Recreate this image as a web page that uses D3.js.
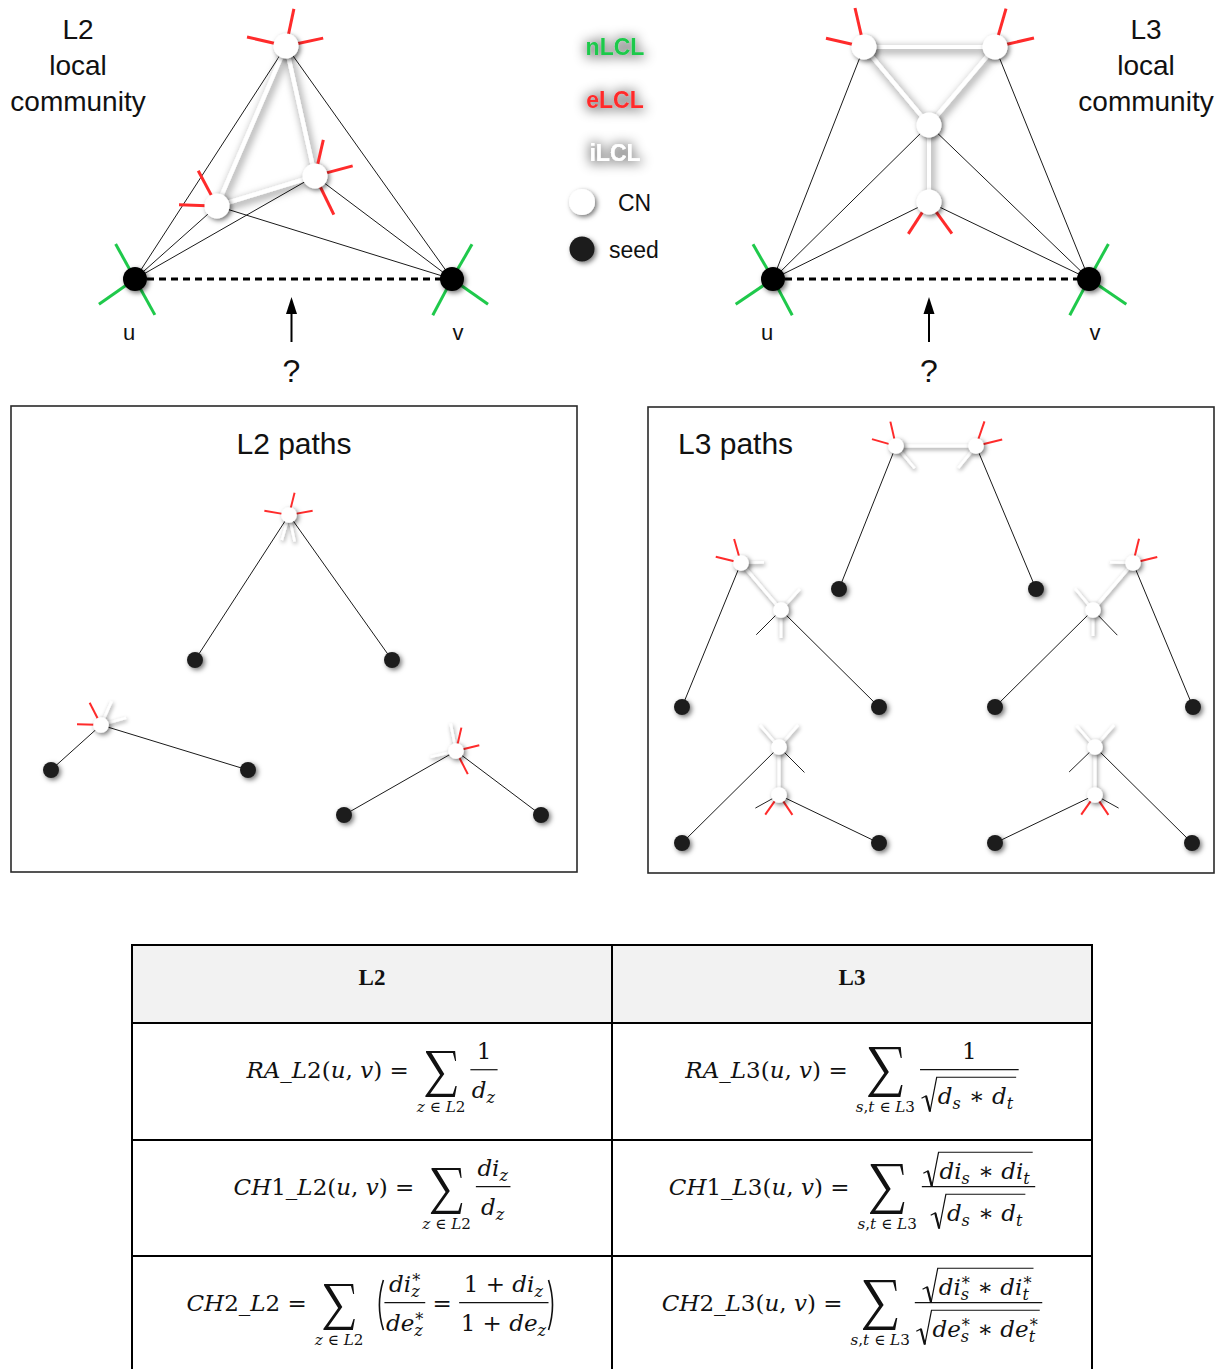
<!DOCTYPE html>
<html lang="en">
<head>
<meta charset="utf-8">
<title>L2 / L3 local community link prediction</title>
<script src="https://cdn.jsdelivr.net/npm/d3@7"></script>
<style>
  html, body { margin: 0; padding: 0; background: #fff; }
  svg { display: block; }
</style>
</head>
<body>
<script>
// ---------------- data ----------------
const communityTitleL2 = ["L2", "local", "community"];
const communityTitleL3 = ["L3", "local", "community"];
const seedNames = ["u", "v"];
const missingLinkMark = "?";
const panelTitles = ["L2 paths", "L3 paths"];
const legendLinkClasses = [["nLCL", "n"], ["eLCL", "e"], ["iLCL", "i"]];
const legendNodeRoles = [["CN", "cn"], ["seed", "seed"]];

// L2 local community: seeds u, v and three common neighbours (layout units = px in panel)
const l2CommunityNodes = [
  { id: "u", role: "seed", x: 135, y: 279 },
  { id: "v", role: "seed", x: 452, y: 279 },
  { id: "z1", role: "cn", x: 286, y: 46 },
  { id: "z2", role: "cn", x: 217, y: 206 },
  { id: "z3", role: "cn", x: 315, y: 176 },
];
const l2CommunityLinks = [
  ["u", "z1", "ext"], ["u", "z2", "ext"], ["u", "z3", "ext"],
  ["v", "z1", "ext"], ["v", "z2", "ext"], ["v", "z3", "ext"],
  ["z1", "z2", "int"], ["z1", "z3", "int"], ["z2", "z3", "int"],
];
// [node, link class, direction in degrees, length]
const l2CommunityStubs = [
  ["z1", "e", 78, 38], ["z1", "e", 167, 40], ["z1", "e", 12, 38],
  ["z2", "e", 118, 40], ["z2", "e", 178, 38],
  ["z3", "e", 77, 37], ["z3", "e", 15, 39], ["z3", "e", -64, 43],
  ["u", "n", 119, 40], ["u", "n", 215, 44], ["u", "n", -61, 41],
  ["v", "n", 60, 40], ["v", "n", 242, 41], ["v", "n", -35, 44],
];

// L3 local community
const l3CommunityNodes = [
  { id: "u", role: "seed", x: 161, y: 279 },
  { id: "v", role: "seed", x: 477, y: 279 },
  { id: "s1", role: "cn", x: 252, y: 47 },
  { id: "s2", role: "cn", x: 383, y: 47 },
  { id: "t1", role: "cn", x: 317, y: 125 },
  { id: "t2", role: "cn", x: 317, y: 202 },
];
const l3CommunityLinks = [
  ["u", "s1", "ext"], ["u", "t1", "ext"], ["u", "t2", "ext"],
  ["v", "s2", "ext"], ["v", "t1", "ext"], ["v", "t2", "ext"],
  ["s1", "s2", "int"], ["s1", "t1", "int"], ["s2", "t1", "int"], ["t1", "t2", "int"],
];
const l3CommunityStubs = [
  ["s1", "e", 103, 40], ["s1", "e", 167, 39],
  ["s2", "e", 74, 40], ["s2", "e", 13, 40],
  ["t2", "e", 237, 38], ["t2", "e", -54, 39],
  ["u", "n", 120, 40], ["u", "n", 214, 45], ["u", "n", -62, 41],
  ["v", "n", 61, 40], ["v", "n", 242, 41], ["v", "n", -34, 45],
];

// L2 paths panel
const l2PathNodes = [
  { id: "a", role: "cn", x: 278, y: 109 }, { id: "a1", role: "seed", x: 184, y: 254 }, { id: "a2", role: "seed", x: 381, y: 254 },
  { id: "b", role: "cn", x: 90, y: 319 }, { id: "b1", role: "seed", x: 40, y: 364 }, { id: "b2", role: "seed", x: 237, y: 364 },
  { id: "c", role: "cn", x: 445, y: 345 }, { id: "c1", role: "seed", x: 333, y: 409 }, { id: "c2", role: "seed", x: 530, y: 409 },
];
const l2PathLinks = [
  ["a1", "a", "ext"], ["a", "a2", "ext"],
  ["b1", "b", "ext"], ["b", "b2", "ext"],
  ["c1", "c", "ext"], ["c", "c2", "ext"],
];
const l2PathStubs = [
  ["a", "e", 76, 23], ["a", "e", 170, 25], ["a", "e", 10, 24], ["a", "i", 254, 26], ["a", "i", -78, 27],
  ["b", "e", 117, 25], ["b", "e", 178, 24], ["b", "i", 66, 26], ["b", "i", 16, 26],
  ["c", "e", 77, 24], ["c", "e", 14, 24], ["c", "e", -63, 26], ["c", "i", 101, 28], ["c", "i", 193, 26],
];

// L3 paths panel
const l3PathNodes = [
  { id: "p1", role: "cn", x: 248, y: 39 }, { id: "p2", role: "cn", x: 328, y: 39 },
  { id: "q1", role: "seed", x: 191, y: 182 }, { id: "q2", role: "seed", x: 388, y: 182 },
  { id: "la", role: "cn", x: 93, y: 156 }, { id: "lb", role: "cn", x: 133, y: 203 },
  { id: "l1", role: "seed", x: 34, y: 300 }, { id: "l2", role: "seed", x: 231, y: 300 },
  { id: "ra", role: "cn", x: 485, y: 156 }, { id: "rb", role: "cn", x: 445, y: 203 },
  { id: "r1", role: "seed", x: 347, y: 300 }, { id: "r2", role: "seed", x: 545, y: 300 },
  { id: "ma", role: "cn", x: 131, y: 340 }, { id: "mb", role: "cn", x: 131, y: 388 },
  { id: "m1", role: "seed", x: 34, y: 436 }, { id: "m2", role: "seed", x: 231, y: 436 },
  { id: "na", role: "cn", x: 447, y: 340 }, { id: "nb", role: "cn", x: 447, y: 388 },
  { id: "n1", role: "seed", x: 347, y: 436 }, { id: "n2", role: "seed", x: 544, y: 436 },
];
const l3PathLinks = [
  ["q1", "p1", "ext"], ["p1", "p2", "int"], ["p2", "q2", "ext"],
  ["l1", "la", "ext"], ["la", "lb", "int"], ["lb", "l2", "ext"],
  ["r1", "rb", "ext"], ["rb", "ra", "int"], ["ra", "r2", "ext"],
  ["m1", "ma", "ext"], ["ma", "mb", "int"], ["mb", "m2", "ext"],
  ["n1", "nb", "ext"], ["nb", "na", "int"], ["na", "n2", "ext"],
];
const l3PathStubs = [
  ["p1", "e", 103, 25], ["p1", "e", 164, 25], ["p1", "i", -50, 29],
  ["p2", "e", 71, 26], ["p2", "e", 14, 27], ["p2", "i", 231, 28],
  ["la", "e", 106, 25], ["la", "e", 166, 26], ["la", "i", 2, 23],
  ["lb", "i", 48, 28], ["lb", "i", -90, 28], ["lb", "x", -135, 35],
  ["ra", "e", 76, 25], ["ra", "e", 14, 25], ["ra", "i", 178, 23],
  ["rb", "i", 130, 28], ["rb", "i", -90, 26], ["rb", "x", -46, 35],
  ["ma", "i", 131, 29], ["ma", "i", 49, 29], ["ma", "x", -45, 36],
  ["mb", "e", 235, 24], ["mb", "e", -56, 24], ["mb", "x", 209, 27],
  ["na", "i", 131, 28], ["na", "i", 49, 29], ["na", "x", -136, 36],
  ["nb", "e", 235, 24], ["nb", "e", -56, 24], ["nb", "x", -29, 27],
];

// similarity indices table
const tableHeaders = ["L2", "L3"];
const l2Formulas = [
  { lhs: "RA_L2(u, v) =", under: "z ∈ L2", num: "1", den: "d_{z}" },
  { lhs: "CH1_L2(u, v) =", under: "z ∈ L2", num: "di_{z}", den: "d_{z}" },
  { lhs: "CH2_L2 =", under: "z ∈ L2", chain: [
      { num: "di^{*}_{z}", den: "de^{*}_{z}" }, " = ", { num: "1 + di_{z}", den: "1 + de_{z}" } ] },
];
const l3Formulas = [
  { lhs: "RA_L3(u, v) =", under: "s,t ∈ L3", num: "1", den: "√{d_{s} ∗ d_{t}}" },
  { lhs: "CH1_L3(u, v) =", under: "s,t ∈ L3", num: "√{di_{s} ∗ di_{t}}", den: "√{d_{s} ∗ d_{t}}" },
  { lhs: "CH2_L3(u, v) =", under: "s,t ∈ L3", num: "√{di^{*}_{s} ∗ di^{*}_{t}}", den: "√{de^{*}_{s} ∗ de^{*}_{t}}" },
];

// ---------------- style ----------------
const W = 1225, H = 1369;
const SANS = "'Liberation Sans', Arial, Helvetica, sans-serif";
const SERIF = "'Liberation Serif', 'Times New Roman', serif";
const MATH = "'DejaVu Serif', 'Liberation Serif', serif";
const INK = "#111";
const CLASS_COLOR = { n: "#1fc94b", e: "#ff2b2b", i: "#ffffff", x: "#222" };
const SIGMA_SHAPE = [[0.03, 0], [0.94, 0], [0.97, 0.22], [0.94, 0.22], [0.87, 0.045], [0.2, 0.045],
  [0.6, 0.5], [0.16, 0.93], [0.87, 0.93], [0.95, 0.76], [0.99, 0.76], [0.93, 1], [0.01, 1],
  [0.01, 0.975], [0.47, 0.52], [0.03, 0.03]];

const svg = d3.select("body").append("svg")
  .attr("width", W).attr("height", H).attr("font-family", SANS);
const defs = svg.append("defs");

function addShadow(id, blur, dx, dy, opacity, spread) {
  const f = defs.append("filter").attr("id", id).attr("filterUnits", "userSpaceOnUse")
    .attr("x", 0).attr("y", 0).attr("width", W).attr("height", H);
  let src = "SourceAlpha";
  if (spread) {
    f.append("feMorphology").attr("in", src).attr("operator", "dilate").attr("radius", spread).attr("result", "sp");
    src = "sp";
  }
  f.append("feGaussianBlur").attr("in", src).attr("stdDeviation", blur).attr("result", "b");
  f.append("feOffset").attr("in", "b").attr("dx", dx).attr("dy", dy).attr("result", "o");
  f.append("feFlood").attr("flood-color", "#000").attr("flood-opacity", opacity).attr("result", "c");
  f.append("feComposite").attr("in", "c").attr("in2", "o").attr("operator", "in").attr("result", "s");
  const m = f.append("feMerge");
  m.append("feMergeNode").attr("in", "s");
  m.append("feMergeNode").attr("in", "SourceGraphic");
}
addShadow("nodeShadow", 2.5, 1.5, 2, 0.55);
addShadow("bigShadow", 4.5, 2, 3, 0.6);
addShadow("smallShadow", 2, 1, 1.5, 0.45);
addShadow("textGlow", 6, 0, 1, 0.42, 2);

const topStyle = { thin: 1, inner: 4, stub: 3, r0: 10, cnR: 12.5, seedR: 12, seedFill: "#000", innerShadow: "bigShadow" };
const pathStyle = { thin: 1, inner: 3, stub: 2, r0: 5, cnR: 7.8, seedR: 8, seedFill: "#1e1e1e", innerShadow: "smallShadow" };

// ---------------- graph drawing ----------------
function drawGraph(frame, nodes, links, stubs, st) {
  const sx = d3.scaleLinear().domain([0, frame.w]).range([frame.x, frame.x + frame.w]);
  const sy = d3.scaleLinear().domain([0, frame.h]).range([frame.y, frame.y + frame.h]);
  const byId = new Map(nodes.map(n => [n.id, n]));
  const X = id => sx(byId.get(id).x), Y = id => sy(byId.get(id).y);
  const polar = (d, r) => {
    const n = byId.get(d[0]), a = d[2] * Math.PI / 180;
    return [sx(n.x + Math.cos(a) * r), sy(n.y - Math.sin(a) * r)];
  };
  const stubLine = sel => sel
    .attr("x1", d => polar(d, st.r0)[0]).attr("y1", d => polar(d, st.r0)[1])
    .attr("x2", d => polar(d, d[3])[0]).attr("y2", d => polar(d, d[3])[1])
    .attr("stroke", d => CLASS_COLOR[d[1]]);
  const linkLine = sel => sel
    .attr("x1", d => X(d[0])).attr("y1", d => Y(d[0]))
    .attr("x2", d => X(d[1])).attr("y2", d => Y(d[1]));

  const g = svg.append("g");

  // links leaving the community (to the seeds) and other thin edges
  g.append("g").selectAll("line").data(links.filter(l => l[2] === "ext")).join("line")
    .call(linkLine).attr("stroke", "#1a1a1a").attr("stroke-width", st.thin);
  g.append("g").selectAll("line").data(stubs.filter(s => s[1] === "x")).join("line")
    .call(stubLine).attr("stroke-width", st.thin);

  if (st.query) {
    const [a, b] = st.query;
    const y0 = Y(a), mx = (X(a) + X(b)) / 2 - 2;
    g.append("line").attr("x1", X(a)).attr("y1", y0).attr("x2", X(b)).attr("y2", Y(b))
      .attr("stroke", "#000").attr("stroke-width", 3).attr("stroke-dasharray", "7 5");
    g.append("line").attr("x1", mx).attr("x2", mx).attr("y1", y0 + 63).attr("y2", y0 + 33)
      .attr("stroke", "#000").attr("stroke-width", 2);
    g.append("path").attr("d", `M${mx},${y0 + 18} L${mx - 5.5},${y0 + 35} L${mx + 5.5},${y0 + 35} Z`).attr("fill", "#000");
    g.append("text").attr("x", mx).attr("y", y0 + 103).attr("text-anchor", "middle")
      .attr("font-size", 32).attr("fill", INK).text(missingLinkMark);
    g.selectAll("text.seed").data(seedNames).join("text").attr("class", "seed")
      .attr("x", (d, i) => i === 0 ? X(a) - 6 : X(b) + 6).attr("y", y0 + 61)
      .attr("text-anchor", "middle").attr("font-size", 22).attr("fill", INK).text(d => d);
  }

  // links inside the community (iLCL) with their shading
  const inner = g.append("g").attr("filter", `url(#${st.innerShadow})`);
  inner.append("g").selectAll("line").data(links.filter(l => l[2] === "int")).join("line")
    .call(linkLine).attr("stroke", "#fff").attr("stroke-width", st.inner);
  inner.append("g").selectAll("line").data(stubs.filter(s => s[1] === "i")).join("line")
    .call(stubLine).attr("stroke-width", st.stub + 0.5);

  // external (eLCL) and non-community (nLCL) links
  g.append("g").selectAll("line").data(stubs.filter(s => s[1] === "e" || s[1] === "n")).join("line")
    .call(stubLine).attr("stroke-width", st.stub);

  g.append("g").selectAll("circle").data(nodes).join("circle")
    .attr("cx", d => sx(d.x)).attr("cy", d => sy(d.y))
    .attr("r", d => d.role === "seed" ? st.seedR : st.cnR)
    .attr("fill", d => d.role === "seed" ? st.seedFill : "#fff")
    .attr("filter", "url(#nodeShadow)");
}

function stackedTitle(lines, cx) {
  svg.append("g").selectAll("text").data(lines).join("text")
    .attr("x", cx).attr("y", (d, i) => 39 + i * 36).attr("text-anchor", "middle")
    .attr("font-size", 28).attr("fill", INK).text(d => d);
}

// ---------------- top: local communities ----------------
stackedTitle(communityTitleL2, 78);
stackedTitle(communityTitleL3, 1146);
drawGraph({ x: 0, y: 0, w: 612, h: 395 }, l2CommunityNodes, l2CommunityLinks, l2CommunityStubs,
  Object.assign({ query: ["u", "v"] }, topStyle));
drawGraph({ x: 612, y: 0, w: 613, h: 395 }, l3CommunityNodes, l3CommunityLinks, l3CommunityStubs,
  Object.assign({ query: ["u", "v"] }, topStyle));

// legend
const legend = svg.append("g");
legend.selectAll("text.cls").data(legendLinkClasses).join("text").attr("class", "cls")
  .attr("x", 615).attr("y", (d, i) => 55 + i * 53).attr("text-anchor", "middle")
  .attr("font-size", 23).attr("font-weight", "bold")
  .attr("fill", d => CLASS_COLOR[d[1]]).attr("filter", "url(#textGlow)").text(d => d[0]);
legend.selectAll("circle").data(legendNodeRoles).join("circle")
  .attr("cx", 582).attr("cy", (d, i) => 202 + i * 47).attr("r", d => d[1] === "cn" ? 13 : 12.5)
  .attr("fill", d => d[1] === "cn" ? "#fff" : "#1a1a1a").attr("filter", "url(#nodeShadow)");
legend.selectAll("text.role").data(legendNodeRoles).join("text").attr("class", "role")
  .attr("x", d => d[1] === "cn" ? 618 : 609).attr("y", (d, i) => 211 + i * 47)
  .attr("font-size", 23).attr("fill", INK).text(d => d[0]);

// ---------------- middle: path panels ----------------
const l2Frame = { x: 11, y: 406, w: 566, h: 466 };
const l3Frame = { x: 648, y: 407, w: 566, h: 466 };
[l2Frame, l3Frame].forEach(f => svg.append("rect").attr("x", f.x).attr("y", f.y).attr("width", f.w).attr("height", f.h)
  .attr("fill", "none").attr("stroke", "#2a2a2a").attr("stroke-width", 1.6));
svg.append("text").attr("x", l2Frame.x + l2Frame.w / 2).attr("y", 454).attr("text-anchor", "middle")
  .attr("font-size", 30).attr("fill", INK).text(panelTitles[0]);
svg.append("text").attr("x", l3Frame.x + 30).attr("y", 454)
  .attr("font-size", 30).attr("fill", INK).text(panelTitles[1]);
drawGraph(l2Frame, l2PathNodes, l2PathLinks, l2PathStubs, pathStyle);
drawGraph(l3Frame, l3PathNodes, l3PathLinks, l3PathStubs, pathStyle);

// ---------------- bottom: formula table ----------------
const tbl = { x0: 132, x1: 1092, xm: 612, top: 945, head: 1023, rows: [1023, 1140, 1256] };
svg.append("rect").attr("x", tbl.x0).attr("y", tbl.top).attr("width", tbl.x1 - tbl.x0).attr("height", tbl.head - tbl.top)
  .attr("fill", "#f2f2f2");
const grid = svg.append("g").attr("stroke", "#000").attr("stroke-width", 2);
[tbl.top, ...tbl.rows].forEach(y => grid.append("line").attr("x1", tbl.x0 - 1).attr("x2", tbl.x1 + 1).attr("y1", y).attr("y2", y));
[tbl.x0, tbl.xm, tbl.x1].forEach(x => grid.append("line").attr("x1", x).attr("x2", x).attr("y1", tbl.top).attr("y2", H + 2));
svg.selectAll("text.hdr").data(tableHeaders).join("text").attr("class", "hdr")
  .attr("x", (d, i) => i === 0 ? (tbl.x0 + tbl.xm) / 2 : (tbl.xm + tbl.x1) / 2).attr("y", 985)
  .attr("text-anchor", "middle").attr("font-family", SERIF).attr("font-weight", "bold")
  .attr("font-size", 23).attr("fill", INK).text(d => d);

// --- a very small math typesetter (text runs, scripts, radicals, fractions, big sums)
function styledText(parent, str, size, x, y) {
  const t = parent.append("text").attr("x", x).attr("y", y)
    .attr("font-family", MATH).attr("font-size", size).attr("fill", INK);
  const runs = [];
  for (const ch of str) {
    const it = /[A-Za-z_]/.test(ch);
    const last = runs[runs.length - 1];
    if (last && last.it === it) last.s += ch; else runs.push({ it, s: ch });
  }
  runs.forEach(r => t.append("tspan").attr("font-style", r.it ? "italic" : "normal").text(r.s.replace(/ /g, "\u00a0")));
  return t.node().getComputedTextLength();
}

function parseMath(s) {
  const out = [];
  let i = 0;
  const group = () => {
    let depth = 0; const start = i + 1;
    for (; i < s.length; i++) {
      if (s[i] === "{") depth++;
      else if (s[i] === "}" && --depth === 0) { i++; return s.slice(start, i - 1); }
    }
    return s.slice(start);
  };
  const script = (kind, body) => {
    let last = out[out.length - 1];
    if (!last || last.type !== "script") { last = { type: "script" }; out.push(last); }
    last[kind] = body;
  };
  while (i < s.length) {
    const c = s[i];
    if (c === "√" && s[i + 1] === "{") { i++; out.push({ type: "sqrt", body: parseMath(group()) }); }
    else if ((c === "_" || c === "^") && s[i + 1] === "{") { i++; script(c === "_" ? "sub" : "sup", group()); }
    else {
      const last = out[out.length - 1];
      if (last && last.type === "text") last.s += c; else out.push({ type: "text", s: c });
      i++;
    }
  }
  return out;
}

function layoutMath(parent, nodes, size) {
  let x = 0;
  for (const n of nodes) {
    if (n.type === "text") x += styledText(parent, n.s, size, x, 0);
    else if (n.type === "script") {
      const ss = size * 0.7; let w = 0;
      if (n.sup) w = Math.max(w, styledText(parent, n.sup, ss, x + 1, -size * 0.24));
      if (n.sub) w = Math.max(w, styledText(parent, n.sub, ss, x, size * 0.24));
      x += w + 1;
    } else if (n.type === "sqrt") {
      const rw = size * 0.66, top = -size * 1.15, bot = size * 0.34;
      const inner = parent.append("g");
      const iw = layoutMath(inner, n.body, size);
      inner.attr("transform", `translate(${x + rw + 1},0)`);
      parent.append("path")
        .attr("d", `M${x},${-size * 0.24} L${x + rw * 0.3},${-size * 0.34} L${x + rw * 0.56},${bot} L${x + rw},${top} L${x + rw + iw + 3},${top}`)
        .attr("fill", "none").attr("stroke", INK).attr("stroke-width", 1.2);
      parent.append("path")
        .attr("d", `M${x + rw * 0.3},${-size * 0.34} L${x + rw * 0.56},${bot}`)
        .attr("stroke", INK).attr("stroke-width", 2.2);
      x += rw + iw + 4;
    }
  }
  return x;
}

function fracBox(parent, num, den, size) {
  const g = parent.append("g");
  const ng = g.append("g"), dg = g.append("g");
  const nn = parseMath(num), dn = parseMath(den);
  const nw = layoutMath(ng, nn, size), dw = layoutMath(dg, dn, size);
  const w = Math.max(nw, dw) + 3;
  const axis = size * 0.36;
  const nRad = nn.some(t => t.type === "sqrt"), dRad = dn.some(t => t.type === "sqrt");
  ng.attr("transform", `translate(${(w - nw) / 2},${-axis - (nRad ? 8 : 11)})`);
  dg.attr("transform", `translate(${(w - dw) / 2},${-axis + (dRad ? 34 : 28)})`);
  g.append("line").attr("x1", 0).attr("x2", w).attr("y1", -axis).attr("y2", -axis)
    .attr("stroke", INK).attr("stroke-width", 1.2);
  return { g, w };
}

function sumBox(parent, under, size, sigW, sigH) {
  const g = parent.append("g");
  const ug = g.append("g");
  const uw = styledText(ug, under, size * 0.66, 0, 0);
  const w = Math.max(sigW, uw);
  const top = -(sigH - 19), off = (w - sigW) / 2;
  const line = d3.line().x(d => off + d[0] * sigW).y(d => top + d[1] * sigH);
  g.append("path").attr("d", line(SIGMA_SHAPE) + "Z").attr("fill", INK);
  ug.attr("transform", `translate(${(w - uw) / 2},34)`);
  return { g, w };
}

function paren(parent, x, open) {
  const a = open ? x + 7 : x, b = open ? x - 1 : x + 8;
  parent.append("path").attr("d", `M${a},-31 Q${b},-6 ${a},19`)
    .attr("fill", "none").attr("stroke", INK).attr("stroke-width", 1.6);
}

function drawFormula(cx, baseline, f, size, sigW, sigH) {
  const g = svg.append("g");
  let x = styledText(g, f.lhs, size, 0, 0) + 8;
  const s = sumBox(g, f.under, size, sigW, sigH);
  s.g.attr("transform", `translate(${x},0)`);
  x += s.w + (f.chain ? 13 : 5);
  if (f.chain) {
    paren(g, x, true); x += 8;
    f.chain.forEach(part => {
      if (typeof part === "string") x += styledText(g, part, size, x, 0);
      else { const fr = fracBox(g, part.num, part.den, size); fr.g.attr("transform", `translate(${x},0)`); x += fr.w; }
    });
    paren(g, x, false); x += 9;
  } else {
    const fr = fracBox(g, f.num, f.den, size);
    fr.g.attr("transform", `translate(${x},0)`);
    x += fr.w;
  }
  g.attr("transform", `translate(${cx - x / 2},${baseline})`);
}

const rowBaselines = [1078, 1195, 1311];
l2Formulas.forEach((f, i) => drawFormula((tbl.x0 + tbl.xm) / 2, rowBaselines[i], f, 23, 32, 46));
l3Formulas.forEach((f, i) => drawFormula((tbl.xm + tbl.x1) / 2, rowBaselines[i], f, 23, 35, 50));
</script>
</body>
</html>
